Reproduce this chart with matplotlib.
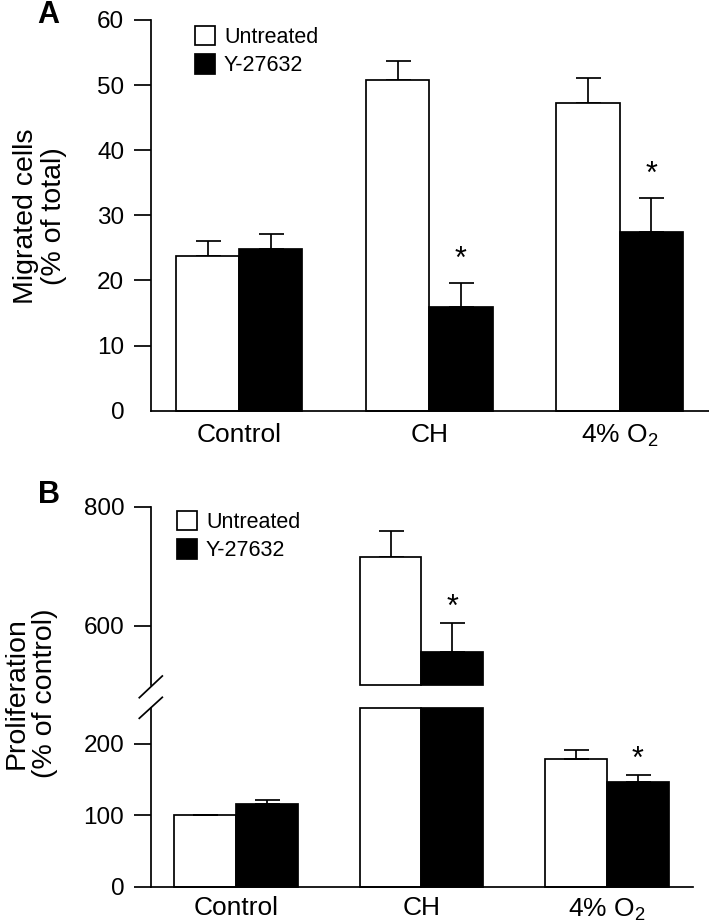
"""Migration (A) and proliferation (B) bar chart, B on a broken y-axis."""
import matplotlib

matplotlib.use("Agg")
import matplotlib.pyplot as plt  # noqa: E402
import numpy as np  # noqa: E402
from matplotlib.lines import Line2D  # noqa: E402

plt.rcParams["font.family"] = ["Liberation Sans", "DejaVu Sans"]
plt.rcParams["mathtext.fontset"] = "custom"
plt.rcParams["mathtext.rm"] = "Liberation Sans"
plt.rcParams["mathtext.it"] = "Liberation Sans:italic"

GROUPS = ["Control", "CH", "4% O$_2$"]
SERIES = ["Untreated", "Y-27632"]

# panel A: migrated cells (% of total)
MIGR_UNTREATED = [23.8, 50.8, 47.3]
MIGR_UNTREATED_ERR = [2.2, 2.9, 3.8]
MIGR_Y = [24.9, 15.9, 27.4]
MIGR_Y_ERR = [2.3, 3.7, 5.2]

# panel B: proliferation (% of control)
PROLIF_UNTREATED = [100, 716, 179]
PROLIF_UNTREATED_ERR = [0, 43, 12.7]
PROLIF_Y = [115.6, 555, 145.9]
PROLIF_Y_ERR = [6, 50, 9.8]

SIGNIF = [False, True, True]  # Y-27632 vs untreated
BREAK_LOW, BREAK_HIGH = 250, 500

W, H = 709, 924
LW = 1.25
TXT = 19
EB = dict(fmt="none", ecolor="black", elinewidth=LW, capsize=9, capthick=LW)


def px(x0, y0, x1, y1):
    """pixel box (left, top, right, bottom) -> figure fraction rect"""
    return [x0 / W, 1 - y1 / H, (x1 - x0) / W, (y1 - y0) / H]


def style(ax, bottom=True):
    for s in ("top", "right"):
        ax.spines[s].set_visible(False)
    ax.spines["left"].set_linewidth(LW)
    ax.spines["bottom"].set_linewidth(LW)
    ax.spines["bottom"].set_visible(bottom)
    ax.tick_params(axis="y", direction="out", length=12, width=LW, pad=7, labelsize=17.5)
    ax.tick_params(axis="x", length=0, pad=9, labelsize=TXT)


def draw_pair(ax, x, w, vals_u, vals_y, lo=0, hi=None, clip=False):
    xu, xy = x - w / 2, x + w / 2
    vu, vy = np.asarray(vals_u, float), np.asarray(vals_y, float)
    tu = vu if hi is None else np.minimum(vu, hi)
    ty = vy if hi is None else np.minimum(vy, hi)
    bu = ax.bar(xu, tu - lo, w, bottom=lo, color="white", edgecolor="black",
                linewidth=LW, label=SERIES[0], zorder=2, clip_on=clip)
    by = ax.bar(xy, ty - lo, w, bottom=lo, color="black", edgecolor="black",
                linewidth=LW, label=SERIES[1], zorder=2, clip_on=clip)
    return bu, by


def legend(ax, bx, by_):
    ax.legend(loc="upper left", bbox_to_anchor=(bx / W, 1 - by_ / H),
              bbox_transform=fig.transFigure, frameon=False, fontsize=15.5, borderpad=0,
              borderaxespad=0, handlelength=0.95, handleheight=1.0, handletextpad=0.4,
              labelspacing=0.3)


fig = plt.figure(figsize=(W / 100, H / 100), dpi=100)
x = np.arange(len(GROUPS))

# ---------------- panel A
axA = fig.add_axes(px(150.7, 20, 709, 410.7))
wA = 0.332
draw_pair(axA, x, wA, MIGR_UNTREATED, MIGR_Y)
axA.errorbar(x - wA / 2, MIGR_UNTREATED, yerr=[np.zeros(3), MIGR_UNTREATED_ERR], zorder=1, **EB)
axA.errorbar(x + wA / 2, MIGR_Y, yerr=[np.zeros(3), MIGR_Y_ERR], zorder=1, **EB)
for i, s in enumerate(SIGNIF):
    if s:
        axA.annotate("*", (x[i] + wA / 2, MIGR_Y[i] + MIGR_Y_ERR[i]), xytext=(0, 17),
                     textcoords="offset points", ha="center", va="center", fontsize=22)
axA.set_xlim(-0.465, 2.47)
axA.set_ylim(0, 60)
axA.set_yticks(np.arange(0, 61, 10))
axA.set_xticks(x)
axA.set_xticklabels(GROUPS)
style(axA)
axA.yaxis.get_major_ticks()[0].tick1line.set_visible(False)
legend(axA, 195, 26)
fig.text(40 / W, 1 - 216 / H, "Migrated cells\n(% of total)", rotation=90, ha="center",
         va="center", fontsize=20.5, multialignment="center", linespacing=1.1)
fig.text(48 / W, 1 - 15 / H, "A", fontsize=22, fontweight="bold", ha="center", va="center")

# ---------------- panel B (broken axis)
wB = 0.334
xl = (-0.46, 2.464)
axB = fig.add_axes(px(150.7, 708, 693, 886.7))
axT = fig.add_axes(px(150.7, 506.7, 693, 685.2))

draw_pair(axB, x, wB, PROLIF_UNTREATED, PROLIF_Y, hi=BREAK_LOW)
low_u = [i for i, v in enumerate(PROLIF_UNTREATED) if v <= BREAK_LOW]
low_y = [i for i, v in enumerate(PROLIF_Y) if v <= BREAK_LOW]
axB.errorbar(x[low_u] - wB / 2, np.take(PROLIF_UNTREATED, low_u),
             yerr=[np.zeros(len(low_u)), np.take(PROLIF_UNTREATED_ERR, low_u)], **EB)
axB.errorbar(x[low_y] + wB / 2, np.take(PROLIF_Y, low_y),
             yerr=[np.zeros(len(low_y)), np.take(PROLIF_Y_ERR, low_y)], **EB)
axB.set_xlim(*xl)
axB.set_ylim(0, BREAK_LOW)
axB.set_yticks([0, 100, 200])
axB.set_xticks(x)
axB.set_xticklabels(GROUPS)
style(axB)
axB.tick_params(axis="x", pad=7)

# upper segment: only the bars that pass the break
hi_idx = [i for i in range(3) if PROLIF_UNTREATED[i] > BREAK_HIGH]
hu = np.take(PROLIF_UNTREATED, hi_idx)
hy = np.take(PROLIF_Y, hi_idx)
draw_pair(axT, x[hi_idx], wB, hu, hy, lo=BREAK_HIGH)
axT.errorbar(x[hi_idx] - wB / 2, hu, yerr=[np.zeros(len(hi_idx)), np.take(PROLIF_UNTREATED_ERR, hi_idx)],
             zorder=1, **EB)
axT.errorbar(x[hi_idx] + wB / 2, hy, yerr=[np.zeros(len(hi_idx)), np.take(PROLIF_Y_ERR, hi_idx)],
             zorder=1, **EB)
axT.set_xlim(*xl)
axT.set_ylim(BREAK_HIGH, 800)
axT.set_yticks([600, 800])
axT.set_xticks([])
style(axT, bottom=False)

for i, s in enumerate(SIGNIF):
    if not s:
        continue
    v, e = PROLIF_Y[i], PROLIF_Y_ERR[i]
    ax = axT if v > BREAK_HIGH else axB
    ax.annotate("*", (x[i] + wB / 2, v + e), xytext=(0, 11), textcoords="offset points",
                ha="center", va="center", fontsize=22)

legend(axT, 177, 511)

# break marks on the y-axis
for (x0, y0, x1, y1) in [(139.3, 697.7, 162.3, 676), (139.3, 718.3, 162.3, 697.3)]:
    fig.add_artist(Line2D([x0 / W, x1 / W], [1 - y0 / H, 1 - y1 / H], color="black",
                          linewidth=LW, transform=fig.transFigure))

fig.text(31 / W, 1 - 693 / H, "Proliferation\n(% of control)", rotation=90, ha="center",
         va="center", fontsize=20.5, multialignment="center", linespacing=1.1)
fig.text(49 / W, 1 - 495 / H, "B", fontsize=22, fontweight="bold", ha="center", va="center")

fig.savefig("out.png", dpi=100)
